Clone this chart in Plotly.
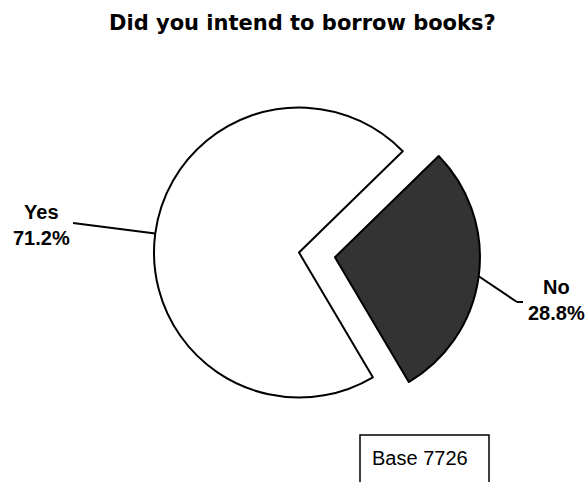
import math
import plotly.graph_objects as go

# Survey answers
labels = ["No", "Yes"]
values = [28.8, 71.2]
colors = ["#333333", "#FFFFFF"]
pulls = [0.25, 0.0]
title_text = "Did you intend to borrow books?"
base_text = "Base 7726"

W, H = 588, 482
cx, cy, r = 299.0, 252.5, 145.0      # pie centre and radius in pixels
rotation = 45.7                       # start angle, degrees clockwise from 12 o'clock
R = r * (1 + max(pulls))


def px(x, y):
    return x / W, 1 - y / H


fig = go.Figure()
fig.add_trace(go.Pie(
    labels=labels,
    values=values,
    sort=False,
    direction="clockwise",
    rotation=rotation,
    pull=pulls,
    marker=dict(colors=colors, line=dict(color="#000000", width=2)),
    textinfo="none",
    hoverinfo="label+percent",
    showlegend=False,
    domain=dict(x=[(cx - R) / W, (cx + R) / W],
                y=[1 - (cy + R) / H, 1 - (cy - R) / H]),
))

# Leader-line anchors and label positions (pixels)
label_pos = {"Yes": (41.5, 224.5), "No": (556.0, 300.0)}
elbow = {"Yes": [(73, 223)], "No": [(517, 302), (523, 302)]}

shapes = []
annotations = []
total = sum(values)
start = rotation
for lab, val, pl in zip(labels, values, pulls):
    span = val / total * 360.0
    mid = math.radians(start + span / 2)
    ux, uy = math.sin(mid), -math.cos(mid)
    ex = cx + (1 + pl) * r * ux
    ey = cy + (1 + pl) * r * uy
    pts = [(ex, ey)] + elbow[lab]
    for (x0, y0), (x1, y1) in zip(pts[:-1], pts[1:]):
        a0, b0 = px(x0, y0)
        a1, b1 = px(x1, y1)
        shapes.append(dict(type="line", xref="paper", yref="paper",
                           x0=a0, y0=b0, x1=a1, y1=b1,
                           line=dict(color="#000000", width=2)))
    lx, ly = px(*label_pos[lab])
    annotations.append(dict(
        x=lx, y=ly, xref="paper", yref="paper", showarrow=False,
        xanchor="center", yanchor="middle", align="center",
        text=f"<b>{lab}<br>{val:.1f}%</b>",
        font=dict(family="Liberation Sans, Arial", size=20, color="#000000"),
    ))
    start += span

# Title
tx, ty = px(302, 23)
annotations.append(dict(
    x=tx, y=ty, xref="paper", yref="paper", showarrow=False,
    xanchor="center", yanchor="middle",
    text=f"<b>{title_text}</b>",
    font=dict(family="DejaVu Sans", size=21, color="#000000"),
))

# Base box
bx0, by0 = px(360, 435)
bx1, by1 = px(489, 495)
shapes.append(dict(type="rect", xref="paper", yref="paper",
                   x0=bx0, y0=by0, x1=bx1, y1=by1,
                   line=dict(color="#000000", width=1.5),
                   fillcolor="rgba(0,0,0,0)"))
btx, bty = px(420, 458)
annotations.append(dict(
    x=btx, y=bty, xref="paper", yref="paper", showarrow=False,
    xanchor="center", yanchor="middle", text=base_text,
    font=dict(family="Liberation Sans, Arial", size=20, color="#000000"),
))

fig.update_layout(
    width=W, height=H,
    margin=dict(l=0, r=0, t=0, b=0),
    paper_bgcolor="#FFFFFF",
    plot_bgcolor="#FFFFFF",
    shapes=shapes,
    annotations=annotations,
)

fig.write_html("out.html")
